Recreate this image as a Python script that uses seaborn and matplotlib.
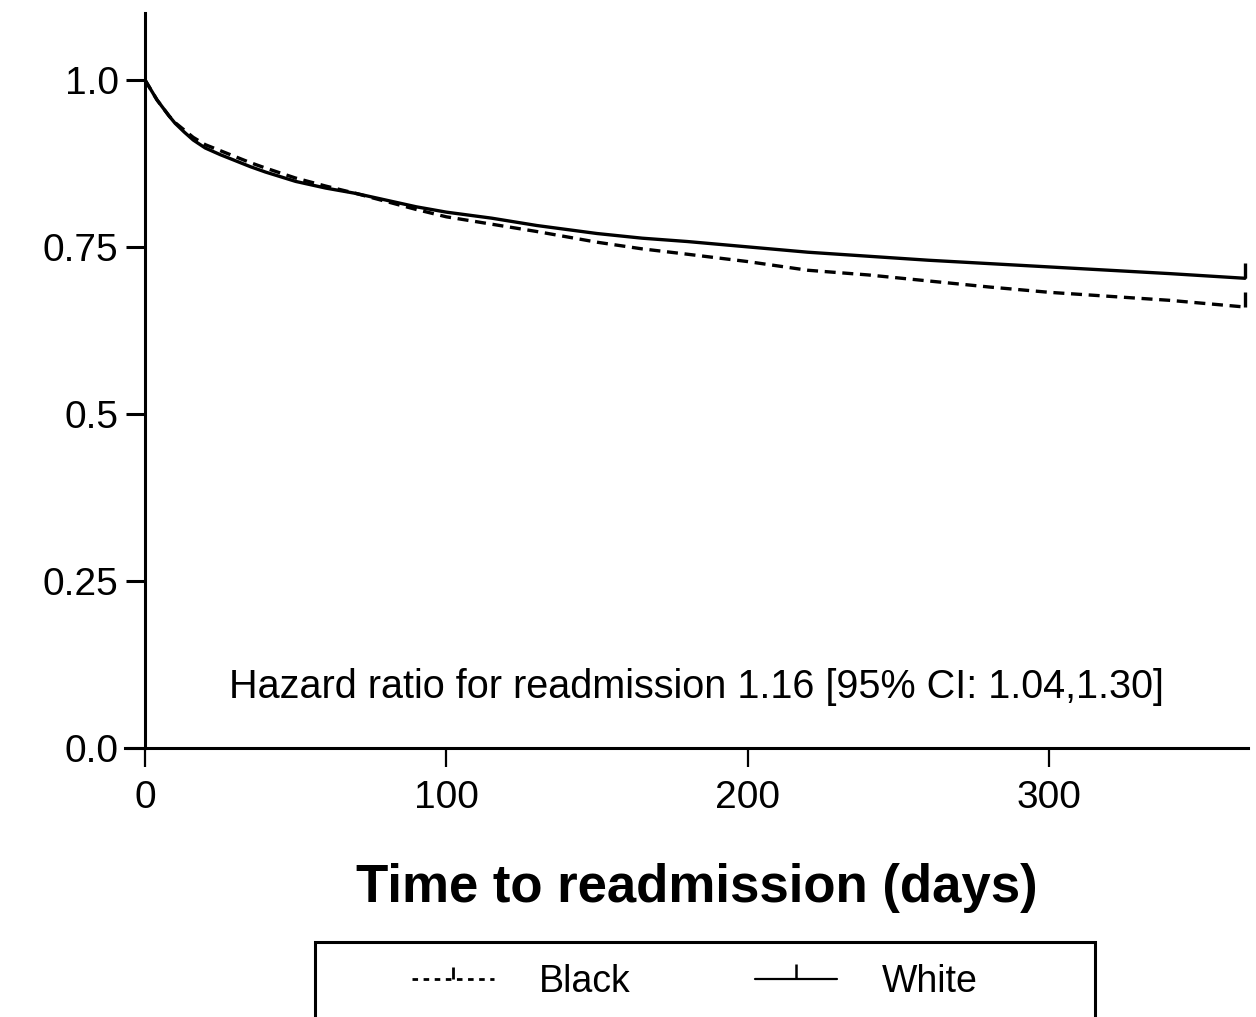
import numpy as np
import pandas as pd
import matplotlib
matplotlib.use("Agg")
import matplotlib.pyplot as plt
import seaborn as sns
from matplotlib.lines import Line2D
from matplotlib.patches import Rectangle

# ---- data ----
days = [0, 2, 4, 6, 8, 10, 13, 16, 20, 25, 30, 35, 40, 50, 60, 70, 80, 90, 100,
        115, 130, 150, 165, 180, 200, 220, 240, 260, 280, 300, 320, 340, 365]
white_surv = [1.0, 0.985, 0.970, 0.958, 0.946, 0.935, 0.922, 0.910, 0.898, 0.888,
              0.879, 0.870, 0.862, 0.848, 0.838, 0.830, 0.820, 0.810, 0.802,
              0.793, 0.782, 0.770, 0.763, 0.758, 0.750, 0.742, 0.736, 0.730,
              0.725, 0.720, 0.715, 0.710, 0.703]
black_surv = [1.0, 0.985, 0.970, 0.958, 0.946, 0.936, 0.925, 0.914, 0.903, 0.894,
              0.885, 0.876, 0.868, 0.853, 0.841, 0.830, 0.818, 0.806, 0.795,
              0.784, 0.773, 0.757, 0.747, 0.739, 0.728, 0.715, 0.708, 0.699,
              0.690, 0.682, 0.676, 0.670, 0.660]
x_ticks = [0, 100, 200, 300]
y_ticks = [0.0, 0.25, 0.5, 0.75, 1.0]
y_ticklabels = ["0.0", "0.25", "0.5", "0.75", "1.0"]
annotation = "Hazard ratio for readmission 1.16 [95% CI: 1.04,1.30]"
xlabel = "Time to readmission (days)"
legend_labels = ["Black", "White"]

df = pd.DataFrame({"days": days, "White": white_surv, "Black": black_surv})

sns.set_theme(style="ticks")
plt.rcParams["font.family"] = ["Liberation Sans", "DejaVu Sans"]

fig = plt.figure(figsize=(12.56, 10.17), dpi=100)
ax = fig.add_axes([0.1154, 0.2645, 0.8782, 0.7227])

lw = 2.4
dash = (0, (3.3, 2.0))
sns.lineplot(data=df, x="days", y="Black", ax=ax, color="black", lw=lw,
             linestyle=dash, estimator=None)
sns.lineplot(data=df, x="days", y="White", ax=ax, color="black", lw=lw,
             estimator=None)
# censoring ticks at the end of follow-up
ax.plot([days[-1]], [black_surv[-1]], marker=2, ms=11, mew=2.4, color="black", ls="none")
ax.plot([days[-1]], [white_surv[-1]], marker=2, ms=11, mew=2.4, color="black", ls="none")

ax.set_xlim(0, 366)
ax.set_ylim(0, 1.1)
ax.set_xticks(x_ticks)
ax.set_yticks(y_ticks)
ax.set_yticklabels(y_ticklabels)
ax.tick_params(axis="y", length=14, width=2.2, labelsize=28, pad=5, color="black",
               labelcolor="black")
ax.tick_params(axis="x", length=14, width=1.6, labelsize=28, pad=9, color="black",
               labelcolor="black")
for s in ["top", "right"]:
    ax.spines[s].set_visible(False)
for s in ["left", "bottom"]:
    ax.spines[s].set_linewidth(2.2)
    ax.spines[s].set_color("black")
ax.spines["bottom"].set_bounds(-20 / 3.0, 366)

ax.set_xlabel(xlabel, fontsize=38, fontweight="bold", labelpad=34, color="black")
ax.set_ylabel("")

ax.text(0.5, 0.083, annotation, transform=ax.transAxes, ha="center", va="center",
        fontsize=28.5, color="black")

handles = [Line2D([], [], color="black", lw=2.0, linestyle=(0, (2.0, 2.0)), marker=2,
                  ms=9, mew=2.0),
           Line2D([], [], color="black", lw=1.6, marker=2, ms=11, mew=1.8)]
leg = fig.legend(handles, legend_labels, loc="center",
                 bbox_to_anchor=(0.5533, 0.0345), ncol=2, frameon=False,
                 fontsize=27, handlelength=2.2, columnspacing=3.3, handletextpad=1.2,
                 borderpad=0.2, numpoints=1, labelcolor="black")

fig.patches.append(Rectangle((315 / 1256, -0.02), 780 / 1256, 0.0937,
                             transform=fig.transFigure, fill=False,
                             edgecolor="black", lw=2.2, zorder=0))

fig.savefig("out.png", dpi=100)
